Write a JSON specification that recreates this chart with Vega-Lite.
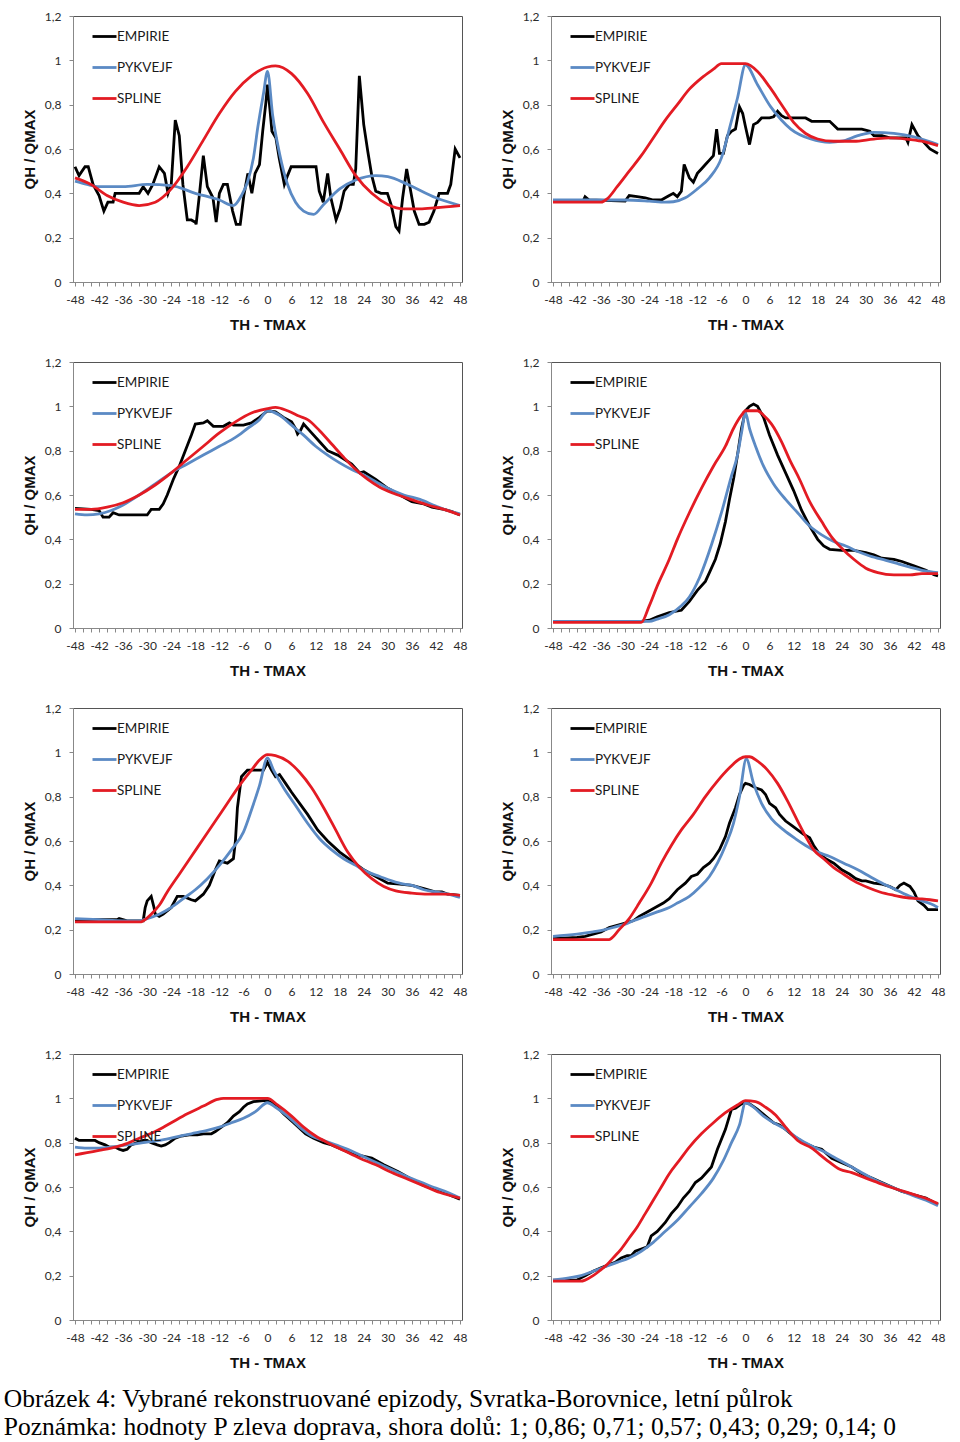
{
"$schema": "https://vega.github.io/schema/vega-lite/v6.json",
"background": "white",
"padding": {"left": 3, "top": 9, "right": 5, "bottom": 3},
"title": {"text": ["Obrázek 4: Vybrané rekonstruované epizody, Svratka-Borovnice, letní půlrok", "Poznámka: hodnoty  P zleva doprava, shora dolů: 1; 0,86; 0,71; 0,57; 0,43; 0,29; 0,14; 0"], "orient": "bottom", "anchor": "start", "frame": "bounds", "font": "Liberation Serif", "fontSize": 25.5, "fontWeight": "normal", "color": "#000000", "lineHeight": 28, "offset": 16, "dx": -18},
"columns": 2,
"spacing": {"row": 80, "column": 89},
"bounds": "flush",
"resolve": {"legend": {"color": "independent"}},
"config": {
  "view": {"stroke": "#555555", "strokeWidth": 1},
  "axis": {"grid": false, "labelFont": "Lato", "labelFontSize": 12, "labelColor": "#2b2b2b", "domainColor": "#888888", "tickColor": "#888888", "tickSize": 4, "titleFont": "Liberation Sans", "titleFontSize": 15, "titleFontWeight": "bold", "titleColor": "#111111"},
  "axisX": {"labelOverlap": false, "labelFlush": false, "labelPadding": 8, "titlePadding": 12},
  "axisY": {"labelPadding": 8, "titlePadding": 7},
  "legend": {"symbolType": "stroke", "symbolSize": 576, "symbolStrokeWidth": 3, "labelFont": "Lato", "labelFontSize": 13.5, "labelColor": "#1a1a1a", "labelOffset": -1, "rowPadding": 11},
  "line": {"strokeWidth": 2.8}
},
"concat": [
{"data": {"name": "p1"}, "width": 389, "height": 266, "encoding": {"x": {"field": "t", "type": "quantitative", "scale": {"domain": [-48.5, 48.5], "nice": false, "zero": false}, "axis": {"title": "TH - TMAX", "values": [-48,-46,-44,-42,-40,-38,-36,-34,-32,-30,-28,-26,-24,-22,-20,-18,-16,-14,-12,-10,-8,-6,-4,-2,0,2,4,6,8,10,12,14,16,18,20,22,24,26,28,30,32,34,36,38,40,42,44,46,48], "labelExpr": "datum.value % 6 == 0 ? replace(datum.label, '\u2212', '-') : ''"}}, "y": {"field": "q", "type": "quantitative", "scale": {"domain": [0, 1.2], "nice": false}, "axis": {"title": "QH / QMAX", "values": [0,0.2,0.4,0.6,0.8,1,1.2], "format": "~g", "labelExpr": "replace(datum.label, '.', ',')"}}, "color": {"field": "s", "type": "nominal", "scale": {"domain": ["EMPIRIE","PYKVEJF","SPLINE"], "range": ["#000000","#5B8AC4","#E31B23"]}, "legend": {"orient": "none", "legendX": 18, "legendY": 7, "title": null}}}, "layer": [{"transform": [{"filter": "datum.s == 'EMPIRIE'"}], "mark": {"type": "line"}}, {"transform": [{"filter": "datum.s != 'EMPIRIE'"}], "mark": {"type": "line", "interpolate": "monotone"}}]},
{"data": {"name": "p2"}, "width": 389, "height": 266, "encoding": {"x": {"field": "t", "type": "quantitative", "scale": {"domain": [-48.5, 48.5], "nice": false, "zero": false}, "axis": {"title": "TH - TMAX", "values": [-48,-46,-44,-42,-40,-38,-36,-34,-32,-30,-28,-26,-24,-22,-20,-18,-16,-14,-12,-10,-8,-6,-4,-2,0,2,4,6,8,10,12,14,16,18,20,22,24,26,28,30,32,34,36,38,40,42,44,46,48], "labelExpr": "datum.value % 6 == 0 ? replace(datum.label, '\u2212', '-') : ''"}}, "y": {"field": "q", "type": "quantitative", "scale": {"domain": [0, 1.2], "nice": false}, "axis": {"title": "QH / QMAX", "values": [0,0.2,0.4,0.6,0.8,1,1.2], "format": "~g", "labelExpr": "replace(datum.label, '.', ',')"}}, "color": {"field": "s", "type": "nominal", "scale": {"domain": ["EMPIRIE","PYKVEJF","SPLINE"], "range": ["#000000","#5B8AC4","#E31B23"]}, "legend": {"orient": "none", "legendX": 18, "legendY": 7, "title": null}}}, "layer": [{"transform": [{"filter": "datum.s == 'EMPIRIE'"}], "mark": {"type": "line"}}, {"transform": [{"filter": "datum.s != 'EMPIRIE'"}], "mark": {"type": "line", "interpolate": "monotone"}}]},
{"data": {"name": "p3"}, "width": 389, "height": 266, "encoding": {"x": {"field": "t", "type": "quantitative", "scale": {"domain": [-48.5, 48.5], "nice": false, "zero": false}, "axis": {"title": "TH - TMAX", "values": [-48,-46,-44,-42,-40,-38,-36,-34,-32,-30,-28,-26,-24,-22,-20,-18,-16,-14,-12,-10,-8,-6,-4,-2,0,2,4,6,8,10,12,14,16,18,20,22,24,26,28,30,32,34,36,38,40,42,44,46,48], "labelExpr": "datum.value % 6 == 0 ? replace(datum.label, '\u2212', '-') : ''"}}, "y": {"field": "q", "type": "quantitative", "scale": {"domain": [0, 1.2], "nice": false}, "axis": {"title": "QH / QMAX", "values": [0,0.2,0.4,0.6,0.8,1,1.2], "format": "~g", "labelExpr": "replace(datum.label, '.', ',')"}}, "color": {"field": "s", "type": "nominal", "scale": {"domain": ["EMPIRIE","PYKVEJF","SPLINE"], "range": ["#000000","#5B8AC4","#E31B23"]}, "legend": {"orient": "none", "legendX": 18, "legendY": 7, "title": null}}}, "layer": [{"transform": [{"filter": "datum.s == 'EMPIRIE'"}], "mark": {"type": "line"}}, {"transform": [{"filter": "datum.s != 'EMPIRIE'"}], "mark": {"type": "line", "interpolate": "monotone"}}]},
{"data": {"name": "p4"}, "width": 389, "height": 266, "encoding": {"x": {"field": "t", "type": "quantitative", "scale": {"domain": [-48.5, 48.5], "nice": false, "zero": false}, "axis": {"title": "TH - TMAX", "values": [-48,-46,-44,-42,-40,-38,-36,-34,-32,-30,-28,-26,-24,-22,-20,-18,-16,-14,-12,-10,-8,-6,-4,-2,0,2,4,6,8,10,12,14,16,18,20,22,24,26,28,30,32,34,36,38,40,42,44,46,48], "labelExpr": "datum.value % 6 == 0 ? replace(datum.label, '\u2212', '-') : ''"}}, "y": {"field": "q", "type": "quantitative", "scale": {"domain": [0, 1.2], "nice": false}, "axis": {"title": "QH / QMAX", "values": [0,0.2,0.4,0.6,0.8,1,1.2], "format": "~g", "labelExpr": "replace(datum.label, '.', ',')"}}, "color": {"field": "s", "type": "nominal", "scale": {"domain": ["EMPIRIE","PYKVEJF","SPLINE"], "range": ["#000000","#5B8AC4","#E31B23"]}, "legend": {"orient": "none", "legendX": 18, "legendY": 7, "title": null}}}, "layer": [{"transform": [{"filter": "datum.s == 'EMPIRIE'"}], "mark": {"type": "line"}}, {"transform": [{"filter": "datum.s != 'EMPIRIE'"}], "mark": {"type": "line", "interpolate": "monotone"}}]},
{"data": {"name": "p5"}, "width": 389, "height": 266, "encoding": {"x": {"field": "t", "type": "quantitative", "scale": {"domain": [-48.5, 48.5], "nice": false, "zero": false}, "axis": {"title": "TH - TMAX", "values": [-48,-46,-44,-42,-40,-38,-36,-34,-32,-30,-28,-26,-24,-22,-20,-18,-16,-14,-12,-10,-8,-6,-4,-2,0,2,4,6,8,10,12,14,16,18,20,22,24,26,28,30,32,34,36,38,40,42,44,46,48], "labelExpr": "datum.value % 6 == 0 ? replace(datum.label, '\u2212', '-') : ''"}}, "y": {"field": "q", "type": "quantitative", "scale": {"domain": [0, 1.2], "nice": false}, "axis": {"title": "QH / QMAX", "values": [0,0.2,0.4,0.6,0.8,1,1.2], "format": "~g", "labelExpr": "replace(datum.label, '.', ',')"}}, "color": {"field": "s", "type": "nominal", "scale": {"domain": ["EMPIRIE","PYKVEJF","SPLINE"], "range": ["#000000","#5B8AC4","#E31B23"]}, "legend": {"orient": "none", "legendX": 18, "legendY": 7, "title": null}}}, "layer": [{"transform": [{"filter": "datum.s == 'EMPIRIE'"}], "mark": {"type": "line"}}, {"transform": [{"filter": "datum.s != 'EMPIRIE'"}], "mark": {"type": "line", "interpolate": "monotone"}}]},
{"data": {"name": "p6"}, "width": 389, "height": 266, "encoding": {"x": {"field": "t", "type": "quantitative", "scale": {"domain": [-48.5, 48.5], "nice": false, "zero": false}, "axis": {"title": "TH - TMAX", "values": [-48,-46,-44,-42,-40,-38,-36,-34,-32,-30,-28,-26,-24,-22,-20,-18,-16,-14,-12,-10,-8,-6,-4,-2,0,2,4,6,8,10,12,14,16,18,20,22,24,26,28,30,32,34,36,38,40,42,44,46,48], "labelExpr": "datum.value % 6 == 0 ? replace(datum.label, '\u2212', '-') : ''"}}, "y": {"field": "q", "type": "quantitative", "scale": {"domain": [0, 1.2], "nice": false}, "axis": {"title": "QH / QMAX", "values": [0,0.2,0.4,0.6,0.8,1,1.2], "format": "~g", "labelExpr": "replace(datum.label, '.', ',')"}}, "color": {"field": "s", "type": "nominal", "scale": {"domain": ["EMPIRIE","PYKVEJF","SPLINE"], "range": ["#000000","#5B8AC4","#E31B23"]}, "legend": {"orient": "none", "legendX": 18, "legendY": 7, "title": null}}}, "layer": [{"transform": [{"filter": "datum.s == 'EMPIRIE'"}], "mark": {"type": "line"}}, {"transform": [{"filter": "datum.s != 'EMPIRIE'"}], "mark": {"type": "line", "interpolate": "monotone"}}]},
{"data": {"name": "p7"}, "width": 389, "height": 266, "encoding": {"x": {"field": "t", "type": "quantitative", "scale": {"domain": [-48.5, 48.5], "nice": false, "zero": false}, "axis": {"title": "TH - TMAX", "values": [-48,-46,-44,-42,-40,-38,-36,-34,-32,-30,-28,-26,-24,-22,-20,-18,-16,-14,-12,-10,-8,-6,-4,-2,0,2,4,6,8,10,12,14,16,18,20,22,24,26,28,30,32,34,36,38,40,42,44,46,48], "labelExpr": "datum.value % 6 == 0 ? replace(datum.label, '\u2212', '-') : ''"}}, "y": {"field": "q", "type": "quantitative", "scale": {"domain": [0, 1.2], "nice": false}, "axis": {"title": "QH / QMAX", "values": [0,0.2,0.4,0.6,0.8,1,1.2], "format": "~g", "labelExpr": "replace(datum.label, '.', ',')"}}, "color": {"field": "s", "type": "nominal", "scale": {"domain": ["EMPIRIE","PYKVEJF","SPLINE"], "range": ["#000000","#5B8AC4","#E31B23"]}, "legend": {"orient": "none", "legendX": 18, "legendY": 7, "title": null}}}, "layer": [{"transform": [{"filter": "datum.s == 'EMPIRIE'"}], "mark": {"type": "line"}}, {"transform": [{"filter": "datum.s != 'EMPIRIE'"}], "mark": {"type": "line", "interpolate": "monotone"}}]},
{"data": {"name": "p8"}, "width": 389, "height": 266, "encoding": {"x": {"field": "t", "type": "quantitative", "scale": {"domain": [-48.5, 48.5], "nice": false, "zero": false}, "axis": {"title": "TH - TMAX", "values": [-48,-46,-44,-42,-40,-38,-36,-34,-32,-30,-28,-26,-24,-22,-20,-18,-16,-14,-12,-10,-8,-6,-4,-2,0,2,4,6,8,10,12,14,16,18,20,22,24,26,28,30,32,34,36,38,40,42,44,46,48], "labelExpr": "datum.value % 6 == 0 ? replace(datum.label, '\u2212', '-') : ''"}}, "y": {"field": "q", "type": "quantitative", "scale": {"domain": [0, 1.2], "nice": false}, "axis": {"title": "QH / QMAX", "values": [0,0.2,0.4,0.6,0.8,1,1.2], "format": "~g", "labelExpr": "replace(datum.label, '.', ',')"}}, "color": {"field": "s", "type": "nominal", "scale": {"domain": ["EMPIRIE","PYKVEJF","SPLINE"], "range": ["#000000","#5B8AC4","#E31B23"]}, "legend": {"orient": "none", "legendX": 18, "legendY": 7, "title": null}}}, "layer": [{"transform": [{"filter": "datum.s == 'EMPIRIE'"}], "mark": {"type": "line"}}, {"transform": [{"filter": "datum.s != 'EMPIRIE'"}], "mark": {"type": "line", "interpolate": "monotone"}}]}
],
"datasets": {
"p1": [
{"s":"EMPIRIE","t":-48,"q":0.52},{"s":"EMPIRIE","t":-47,"q":0.48},{"s":"EMPIRIE","t":-45.5,"q":0.52},{"s":"EMPIRIE","t":-44.7,"q":0.52},{"s":"EMPIRIE","t":-43.5,"q":0.44},{"s":"EMPIRIE","t":-42,"q":0.39},{"s":"EMPIRIE","t":-40.8,"q":0.32},{"s":"EMPIRIE","t":-39.8,"q":0.36},{"s":"EMPIRIE","t":-38.5,"q":0.36},{"s":"EMPIRIE","t":-38,"q":0.40},{"s":"EMPIRIE","t":-32,"q":0.40},{"s":"EMPIRIE","t":-31,"q":0.43},{"s":"EMPIRIE","t":-29.8,"q":0.40},{"s":"EMPIRIE","t":-28.6,"q":0.44},{"s":"EMPIRIE","t":-27,"q":0.52},{"s":"EMPIRIE","t":-25.7,"q":0.49},{"s":"EMPIRIE","t":-24.8,"q":0.40},{"s":"EMPIRIE","t":-24,"q":0.44},{"s":"EMPIRIE","t":-23,"q":0.73},{"s":"EMPIRIE","t":-22,"q":0.66},{"s":"EMPIRIE","t":-21.1,"q":0.44},{"s":"EMPIRIE","t":-20,"q":0.28},{"s":"EMPIRIE","t":-19,"q":0.28},{"s":"EMPIRIE","t":-18,"q":0.27},{"s":"EMPIRIE","t":-17.8,"q":0.26},{"s":"EMPIRIE","t":-17,"q":0.39},{"s":"EMPIRIE","t":-16,"q":0.57},{"s":"EMPIRIE","t":-15,"q":0.43},{"s":"EMPIRIE","t":-13.6,"q":0.38},{"s":"EMPIRIE","t":-12.8,"q":0.27},{"s":"EMPIRIE","t":-12,"q":0.40},{"s":"EMPIRIE","t":-11,"q":0.44},{"s":"EMPIRIE","t":-10,"q":0.44},{"s":"EMPIRIE","t":-8.7,"q":0.32},{"s":"EMPIRIE","t":-7.8,"q":0.26},{"s":"EMPIRIE","t":-6.8,"q":0.26},{"s":"EMPIRIE","t":-5.9,"q":0.39},{"s":"EMPIRIE","t":-4.9,"q":0.49},{"s":"EMPIRIE","t":-3.9,"q":0.40},{"s":"EMPIRIE","t":-3.1,"q":0.49},{"s":"EMPIRIE","t":-2,"q":0.53},{"s":"EMPIRIE","t":-1.2,"q":0.68},{"s":"EMPIRIE","t":-0.4,"q":0.81},{"s":"EMPIRIE","t":0,"q":0.89},{"s":"EMPIRIE","t":0.6,"q":0.78},{"s":"EMPIRIE","t":1.1,"q":0.68},{"s":"EMPIRIE","t":2.1,"q":0.65},{"s":"EMPIRIE","t":2.9,"q":0.56},{"s":"EMPIRIE","t":4.2,"q":0.44},{"s":"EMPIRIE","t":5,"q":0.48},{"s":"EMPIRIE","t":5.9,"q":0.52},{"s":"EMPIRIE","t":12.1,"q":0.52},{"s":"EMPIRIE","t":12.9,"q":0.41},{"s":"EMPIRIE","t":13.9,"q":0.36},{"s":"EMPIRIE","t":15,"q":0.49},{"s":"EMPIRIE","t":15.8,"q":0.38},{"s":"EMPIRIE","t":17.1,"q":0.28},{"s":"EMPIRIE","t":18.1,"q":0.33},{"s":"EMPIRIE","t":19.1,"q":0.41},{"s":"EMPIRIE","t":20.4,"q":0.44},{"s":"EMPIRIE","t":21.4,"q":0.44},{"s":"EMPIRIE","t":22,"q":0.51},{"s":"EMPIRIE","t":22.9,"q":0.93},{"s":"EMPIRIE","t":24,"q":0.71},{"s":"EMPIRIE","t":25,"q":0.59},{"s":"EMPIRIE","t":26,"q":0.48},{"s":"EMPIRIE","t":27,"q":0.41},{"s":"EMPIRIE","t":28.3,"q":0.40},{"s":"EMPIRIE","t":29.9,"q":0.40},{"s":"EMPIRIE","t":30.8,"q":0.35},{"s":"EMPIRIE","t":32,"q":0.25},{"s":"EMPIRIE","t":32.8,"q":0.23},{"s":"EMPIRIE","t":33.7,"q":0.38},{"s":"EMPIRIE","t":34.7,"q":0.51},{"s":"EMPIRIE","t":35.7,"q":0.41},{"s":"EMPIRIE","t":36.6,"q":0.32},{"s":"EMPIRIE","t":37.8,"q":0.26},{"s":"EMPIRIE","t":39.1,"q":0.26},{"s":"EMPIRIE","t":40.3,"q":0.27},{"s":"EMPIRIE","t":41.5,"q":0.32},{"s":"EMPIRIE","t":42.8,"q":0.40},{"s":"EMPIRIE","t":44.9,"q":0.40},{"s":"EMPIRIE","t":45.7,"q":0.44},{"s":"EMPIRIE","t":46.8,"q":0.60},{"s":"EMPIRIE","t":48,"q":0.56},
{"s":"PYKVEJF","t":-48,"q":0.455},{"s":"PYKVEJF","t":-45,"q":0.44},{"s":"PYKVEJF","t":-42,"q":0.43},{"s":"PYKVEJF","t":-36,"q":0.43},{"s":"PYKVEJF","t":-30,"q":0.44},{"s":"PYKVEJF","t":-24,"q":0.435},{"s":"PYKVEJF","t":-18,"q":0.40},{"s":"PYKVEJF","t":-12,"q":0.37},{"s":"PYKVEJF","t":-8.5,"q":0.345},{"s":"PYKVEJF","t":-6.5,"q":0.39},{"s":"PYKVEJF","t":-5,"q":0.45},{"s":"PYKVEJF","t":-3.5,"q":0.56},{"s":"PYKVEJF","t":-2.4,"q":0.70},{"s":"PYKVEJF","t":-1,"q":0.85},{"s":"PYKVEJF","t":0,"q":0.95},{"s":"PYKVEJF","t":1.3,"q":0.75},{"s":"PYKVEJF","t":3,"q":0.58},{"s":"PYKVEJF","t":5,"q":0.44},{"s":"PYKVEJF","t":7,"q":0.36},{"s":"PYKVEJF","t":9,"q":0.32},{"s":"PYKVEJF","t":11.5,"q":0.305},{"s":"PYKVEJF","t":14,"q":0.35},{"s":"PYKVEJF","t":18,"q":0.42},{"s":"PYKVEJF","t":22,"q":0.46},{"s":"PYKVEJF","t":27,"q":0.48},{"s":"PYKVEJF","t":30,"q":0.475},{"s":"PYKVEJF","t":35,"q":0.44},{"s":"PYKVEJF","t":42,"q":0.38},{"s":"PYKVEJF","t":48,"q":0.345},
{"s":"SPLINE","t":-48,"q":0.47},{"s":"SPLINE","t":-44,"q":0.44},{"s":"SPLINE","t":-40,"q":0.39},{"s":"SPLINE","t":-36,"q":0.36},{"s":"SPLINE","t":-32,"q":0.345},{"s":"SPLINE","t":-28,"q":0.36},{"s":"SPLINE","t":-24,"q":0.42},{"s":"SPLINE","t":-20,"q":0.52},{"s":"SPLINE","t":-16,"q":0.64},{"s":"SPLINE","t":-12,"q":0.76},{"s":"SPLINE","t":-8,"q":0.86},{"s":"SPLINE","t":-4,"q":0.93},{"s":"SPLINE","t":0,"q":0.97},{"s":"SPLINE","t":2,"q":0.975},{"s":"SPLINE","t":6,"q":0.94},{"s":"SPLINE","t":10,"q":0.85},{"s":"SPLINE","t":14,"q":0.72},{"s":"SPLINE","t":18,"q":0.60},{"s":"SPLINE","t":22,"q":0.48},{"s":"SPLINE","t":26,"q":0.40},{"s":"SPLINE","t":30,"q":0.35},{"s":"SPLINE","t":34,"q":0.33},{"s":"SPLINE","t":38,"q":0.33},{"s":"SPLINE","t":42,"q":0.335},{"s":"SPLINE","t":48,"q":0.345}
],
"p2": [
{"s":"EMPIRIE","t":-48,"q":0.365},{"s":"EMPIRIE","t":-40.5,"q":0.365},{"s":"EMPIRIE","t":-40,"q":0.385},{"s":"EMPIRIE","t":-39,"q":0.37},{"s":"EMPIRIE","t":-30,"q":0.365},{"s":"EMPIRIE","t":-29,"q":0.39},{"s":"EMPIRIE","t":-27,"q":0.385},{"s":"EMPIRIE","t":-25,"q":0.38},{"s":"EMPIRIE","t":-23,"q":0.37},{"s":"EMPIRIE","t":-21,"q":0.37},{"s":"EMPIRIE","t":-20,"q":0.38},{"s":"EMPIRIE","t":-19,"q":0.39},{"s":"EMPIRIE","t":-18,"q":0.40},{"s":"EMPIRIE","t":-17,"q":0.385},{"s":"EMPIRIE","t":-16,"q":0.41},{"s":"EMPIRIE","t":-15.3,"q":0.53},{"s":"EMPIRIE","t":-14,"q":0.47},{"s":"EMPIRIE","t":-13,"q":0.45},{"s":"EMPIRIE","t":-12,"q":0.49},{"s":"EMPIRIE","t":-11,"q":0.51},{"s":"EMPIRIE","t":-10,"q":0.53},{"s":"EMPIRIE","t":-9,"q":0.55},{"s":"EMPIRIE","t":-8,"q":0.57},{"s":"EMPIRIE","t":-7.2,"q":0.69},{"s":"EMPIRIE","t":-6.5,"q":0.58},{"s":"EMPIRIE","t":-5.5,"q":0.58},{"s":"EMPIRIE","t":-4.5,"q":0.66},{"s":"EMPIRIE","t":-3.5,"q":0.68},{"s":"EMPIRIE","t":-2.5,"q":0.69},{"s":"EMPIRIE","t":-1.5,"q":0.79},{"s":"EMPIRIE","t":-0.7,"q":0.76},{"s":"EMPIRIE","t":0,"q":0.70},{"s":"EMPIRIE","t":1,"q":0.62},{"s":"EMPIRIE","t":2,"q":0.71},{"s":"EMPIRIE","t":3,"q":0.72},{"s":"EMPIRIE","t":4,"q":0.74},{"s":"EMPIRIE","t":6,"q":0.74},{"s":"EMPIRIE","t":7,"q":0.745},{"s":"EMPIRIE","t":8,"q":0.77},{"s":"EMPIRIE","t":9,"q":0.75},{"s":"EMPIRIE","t":10,"q":0.74},{"s":"EMPIRIE","t":15,"q":0.74},{"s":"EMPIRIE","t":16.5,"q":0.725},{"s":"EMPIRIE","t":21,"q":0.725},{"s":"EMPIRIE","t":23,"q":0.69},{"s":"EMPIRIE","t":29,"q":0.69},{"s":"EMPIRIE","t":31,"q":0.68},{"s":"EMPIRIE","t":32,"q":0.66},{"s":"EMPIRIE","t":34,"q":0.66},{"s":"EMPIRIE","t":36,"q":0.65},{"s":"EMPIRIE","t":40,"q":0.65},{"s":"EMPIRIE","t":40.5,"q":0.63},{"s":"EMPIRIE","t":41.5,"q":0.71},{"s":"EMPIRIE","t":43,"q":0.66},{"s":"EMPIRIE","t":45,"q":0.62},{"s":"EMPIRIE","t":46,"q":0.60},{"s":"EMPIRIE","t":48,"q":0.58},
{"s":"PYKVEJF","t":-48,"q":0.37},{"s":"PYKVEJF","t":-30,"q":0.37},{"s":"PYKVEJF","t":-24,"q":0.365},{"s":"PYKVEJF","t":-20,"q":0.36},{"s":"PYKVEJF","t":-18,"q":0.362},{"s":"PYKVEJF","t":-15,"q":0.38},{"s":"PYKVEJF","t":-12,"q":0.42},{"s":"PYKVEJF","t":-9,"q":0.47},{"s":"PYKVEJF","t":-6,"q":0.56},{"s":"PYKVEJF","t":-3.6,"q":0.72},{"s":"PYKVEJF","t":-2,"q":0.83},{"s":"PYKVEJF","t":0,"q":0.98},{"s":"PYKVEJF","t":3,"q":0.89},{"s":"PYKVEJF","t":6.3,"q":0.79},{"s":"PYKVEJF","t":9,"q":0.73},{"s":"PYKVEJF","t":11.3,"q":0.69},{"s":"PYKVEJF","t":16.3,"q":0.645},{"s":"PYKVEJF","t":21,"q":0.63},{"s":"PYKVEJF","t":24,"q":0.635},{"s":"PYKVEJF","t":28,"q":0.66},{"s":"PYKVEJF","t":32,"q":0.675},{"s":"PYKVEJF","t":37,"q":0.67},{"s":"PYKVEJF","t":42,"q":0.655},{"s":"PYKVEJF","t":48,"q":0.62},
{"s":"SPLINE","t":-48,"q":0.36},{"s":"SPLINE","t":-36,"q":0.36},{"s":"SPLINE","t":-34.5,"q":0.375},{"s":"SPLINE","t":-32,"q":0.43},{"s":"SPLINE","t":-29,"q":0.50},{"s":"SPLINE","t":-26,"q":0.57},{"s":"SPLINE","t":-23,"q":0.65},{"s":"SPLINE","t":-20,"q":0.73},{"s":"SPLINE","t":-17,"q":0.80},{"s":"SPLINE","t":-14,"q":0.87},{"s":"SPLINE","t":-11,"q":0.92},{"s":"SPLINE","t":-8,"q":0.96},{"s":"SPLINE","t":-6,"q":0.985},{"s":"SPLINE","t":0,"q":0.985},{"s":"SPLINE","t":3,"q":0.95},{"s":"SPLINE","t":6,"q":0.88},{"s":"SPLINE","t":9,"q":0.80},{"s":"SPLINE","t":12,"q":0.72},{"s":"SPLINE","t":15,"q":0.67},{"s":"SPLINE","t":18,"q":0.645},{"s":"SPLINE","t":22,"q":0.635},{"s":"SPLINE","t":27,"q":0.635},{"s":"SPLINE","t":32,"q":0.645},{"s":"SPLINE","t":36,"q":0.65},{"s":"SPLINE","t":40,"q":0.645},{"s":"SPLINE","t":44,"q":0.635},{"s":"SPLINE","t":48,"q":0.615}
],
"p3": [
{"s":"EMPIRIE","t":-48,"q":0.54},{"s":"EMPIRIE","t":-44,"q":0.535},{"s":"EMPIRIE","t":-42,"q":0.53},{"s":"EMPIRIE","t":-41,"q":0.50},{"s":"EMPIRIE","t":-39.5,"q":0.50},{"s":"EMPIRIE","t":-38.5,"q":0.52},{"s":"EMPIRIE","t":-37,"q":0.51},{"s":"EMPIRIE","t":-30,"q":0.51},{"s":"EMPIRIE","t":-29,"q":0.535},{"s":"EMPIRIE","t":-27,"q":0.535},{"s":"EMPIRIE","t":-26,"q":0.56},{"s":"EMPIRIE","t":-25,"q":0.60},{"s":"EMPIRIE","t":-23.5,"q":0.67},{"s":"EMPIRIE","t":-22,"q":0.73},{"s":"EMPIRIE","t":-20.5,"q":0.80},{"s":"EMPIRIE","t":-19,"q":0.87},{"s":"EMPIRIE","t":-18,"q":0.92},{"s":"EMPIRIE","t":-16,"q":0.925},{"s":"EMPIRIE","t":-15,"q":0.935},{"s":"EMPIRIE","t":-13.5,"q":0.91},{"s":"EMPIRIE","t":-11,"q":0.91},{"s":"EMPIRIE","t":-9.5,"q":0.925},{"s":"EMPIRIE","t":-8.5,"q":0.915},{"s":"EMPIRIE","t":-6,"q":0.915},{"s":"EMPIRIE","t":-4,"q":0.925},{"s":"EMPIRIE","t":-2,"q":0.95},{"s":"EMPIRIE","t":0,"q":0.98},{"s":"EMPIRIE","t":2,"q":0.975},{"s":"EMPIRIE","t":4,"q":0.95},{"s":"EMPIRIE","t":6,"q":0.93},{"s":"EMPIRIE","t":7,"q":0.90},{"s":"EMPIRIE","t":7.5,"q":0.875},{"s":"EMPIRIE","t":8.2,"q":0.89},{"s":"EMPIRIE","t":9,"q":0.92},{"s":"EMPIRIE","t":11,"q":0.88},{"s":"EMPIRIE","t":13,"q":0.84},{"s":"EMPIRIE","t":15,"q":0.80},{"s":"EMPIRIE","t":17.5,"q":0.78},{"s":"EMPIRIE","t":21,"q":0.74},{"s":"EMPIRIE","t":23,"q":0.70},{"s":"EMPIRIE","t":24,"q":0.705},{"s":"EMPIRIE","t":27,"q":0.67},{"s":"EMPIRIE","t":30,"q":0.63},{"s":"EMPIRIE","t":33,"q":0.60},{"s":"EMPIRIE","t":36,"q":0.57},{"s":"EMPIRIE","t":39,"q":0.56},{"s":"EMPIRIE","t":41,"q":0.545},{"s":"EMPIRIE","t":44,"q":0.535},{"s":"EMPIRIE","t":46,"q":0.525},{"s":"EMPIRIE","t":48,"q":0.51},
{"s":"PYKVEJF","t":-48,"q":0.515},{"s":"PYKVEJF","t":-45,"q":0.51},{"s":"PYKVEJF","t":-42,"q":0.515},{"s":"PYKVEJF","t":-39,"q":0.53},{"s":"PYKVEJF","t":-36,"q":0.555},{"s":"PYKVEJF","t":-32,"q":0.60},{"s":"PYKVEJF","t":-28,"q":0.65},{"s":"PYKVEJF","t":-24,"q":0.70},{"s":"PYKVEJF","t":-20,"q":0.74},{"s":"PYKVEJF","t":-16,"q":0.78},{"s":"PYKVEJF","t":-12,"q":0.82},{"s":"PYKVEJF","t":-8,"q":0.86},{"s":"PYKVEJF","t":-5,"q":0.90},{"s":"PYKVEJF","t":-2,"q":0.94},{"s":"PYKVEJF","t":0,"q":0.98},{"s":"PYKVEJF","t":3,"q":0.96},{"s":"PYKVEJF","t":6,"q":0.915},{"s":"PYKVEJF","t":9,"q":0.87},{"s":"PYKVEJF","t":12,"q":0.82},{"s":"PYKVEJF","t":15,"q":0.78},{"s":"PYKVEJF","t":18,"q":0.745},{"s":"PYKVEJF","t":21,"q":0.715},{"s":"PYKVEJF","t":24,"q":0.69},{"s":"PYKVEJF","t":27,"q":0.66},{"s":"PYKVEJF","t":30,"q":0.63},{"s":"PYKVEJF","t":34,"q":0.60},{"s":"PYKVEJF","t":38,"q":0.58},{"s":"PYKVEJF","t":42,"q":0.55},{"s":"PYKVEJF","t":45,"q":0.53},{"s":"PYKVEJF","t":48,"q":0.515},
{"s":"SPLINE","t":-48,"q":0.535},{"s":"SPLINE","t":-44,"q":0.535},{"s":"SPLINE","t":-40,"q":0.545},{"s":"SPLINE","t":-36,"q":0.565},{"s":"SPLINE","t":-32,"q":0.60},{"s":"SPLINE","t":-28,"q":0.645},{"s":"SPLINE","t":-24,"q":0.70},{"s":"SPLINE","t":-20,"q":0.76},{"s":"SPLINE","t":-16,"q":0.82},{"s":"SPLINE","t":-12,"q":0.88},{"s":"SPLINE","t":-8,"q":0.93},{"s":"SPLINE","t":-4,"q":0.97},{"s":"SPLINE","t":0,"q":0.99},{"s":"SPLINE","t":2,"q":0.995},{"s":"SPLINE","t":5,"q":0.98},{"s":"SPLINE","t":8,"q":0.955},{"s":"SPLINE","t":10,"q":0.94},{"s":"SPLINE","t":13,"q":0.89},{"s":"SPLINE","t":16,"q":0.83},{"s":"SPLINE","t":19,"q":0.77},{"s":"SPLINE","t":22,"q":0.715},{"s":"SPLINE","t":25,"q":0.67},{"s":"SPLINE","t":28,"q":0.635},{"s":"SPLINE","t":31,"q":0.61},{"s":"SPLINE","t":35,"q":0.585},{"s":"SPLINE","t":40,"q":0.555},{"s":"SPLINE","t":44,"q":0.535},{"s":"SPLINE","t":48,"q":0.51}
],
"p4": [
{"s":"EMPIRIE","t":-48,"q":0.03},{"s":"EMPIRIE","t":-26,"q":0.03},{"s":"EMPIRIE","t":-24,"q":0.035},{"s":"EMPIRIE","t":-22,"q":0.05},{"s":"EMPIRIE","t":-19,"q":0.07},{"s":"EMPIRIE","t":-16,"q":0.08},{"s":"EMPIRIE","t":-14,"q":0.12},{"s":"EMPIRIE","t":-12,"q":0.17},{"s":"EMPIRIE","t":-10,"q":0.21},{"s":"EMPIRIE","t":-9,"q":0.25},{"s":"EMPIRIE","t":-7.5,"q":0.31},{"s":"EMPIRIE","t":-6.3,"q":0.38},{"s":"EMPIRIE","t":-5,"q":0.48},{"s":"EMPIRIE","t":-4,"q":0.58},{"s":"EMPIRIE","t":-2.9,"q":0.68},{"s":"EMPIRIE","t":-2,"q":0.78},{"s":"EMPIRIE","t":-1,"q":0.90},{"s":"EMPIRIE","t":0,"q":0.98},{"s":"EMPIRIE","t":1,"q":1.0},{"s":"EMPIRIE","t":2,"q":1.01},{"s":"EMPIRIE","t":3,"q":1.0},{"s":"EMPIRIE","t":4.5,"q":0.95},{"s":"EMPIRIE","t":6,"q":0.87},{"s":"EMPIRIE","t":8,"q":0.78},{"s":"EMPIRIE","t":10,"q":0.70},{"s":"EMPIRIE","t":12,"q":0.62},{"s":"EMPIRIE","t":14,"q":0.53},{"s":"EMPIRIE","t":16,"q":0.46},{"s":"EMPIRIE","t":18,"q":0.40},{"s":"EMPIRIE","t":19.5,"q":0.37},{"s":"EMPIRIE","t":21,"q":0.355},{"s":"EMPIRIE","t":24,"q":0.35},{"s":"EMPIRIE","t":27,"q":0.35},{"s":"EMPIRIE","t":30,"q":0.34},{"s":"EMPIRIE","t":32,"q":0.33},{"s":"EMPIRIE","t":34,"q":0.315},{"s":"EMPIRIE","t":37,"q":0.31},{"s":"EMPIRIE","t":39,"q":0.30},{"s":"EMPIRIE","t":42,"q":0.28},{"s":"EMPIRIE","t":45,"q":0.26},{"s":"EMPIRIE","t":47,"q":0.24},{"s":"EMPIRIE","t":48,"q":0.235},
{"s":"PYKVEJF","t":-48,"q":0.03},{"s":"PYKVEJF","t":-24,"q":0.03},{"s":"PYKVEJF","t":-22,"q":0.04},{"s":"PYKVEJF","t":-19,"q":0.06},{"s":"PYKVEJF","t":-16,"q":0.10},{"s":"PYKVEJF","t":-14,"q":0.14},{"s":"PYKVEJF","t":-11.4,"q":0.23},{"s":"PYKVEJF","t":-8.4,"q":0.38},{"s":"PYKVEJF","t":-6,"q":0.52},{"s":"PYKVEJF","t":-3.6,"q":0.68},{"s":"PYKVEJF","t":-2,"q":0.78},{"s":"PYKVEJF","t":-1,"q":0.88},{"s":"PYKVEJF","t":0,"q":0.97},{"s":"PYKVEJF","t":1,"q":0.90},{"s":"PYKVEJF","t":2.5,"q":0.82},{"s":"PYKVEJF","t":4.5,"q":0.73},{"s":"PYKVEJF","t":7,"q":0.65},{"s":"PYKVEJF","t":10,"q":0.58},{"s":"PYKVEJF","t":13,"q":0.52},{"s":"PYKVEJF","t":16,"q":0.46},{"s":"PYKVEJF","t":19,"q":0.42},{"s":"PYKVEJF","t":22,"q":0.39},{"s":"PYKVEJF","t":25,"q":0.37},{"s":"PYKVEJF","t":28,"q":0.345},{"s":"PYKVEJF","t":31,"q":0.325},{"s":"PYKVEJF","t":35,"q":0.305},{"s":"PYKVEJF","t":38,"q":0.29},{"s":"PYKVEJF","t":41,"q":0.275},{"s":"PYKVEJF","t":44,"q":0.26},{"s":"PYKVEJF","t":48,"q":0.25},
{"s":"SPLINE","t":-48,"q":0.025},{"s":"SPLINE","t":-26,"q":0.025},{"s":"SPLINE","t":-24,"q":0.10},{"s":"SPLINE","t":-22,"q":0.19},{"s":"SPLINE","t":-19,"q":0.31},{"s":"SPLINE","t":-17,"q":0.40},{"s":"SPLINE","t":-14,"q":0.52},{"s":"SPLINE","t":-11,"q":0.63},{"s":"SPLINE","t":-8,"q":0.73},{"s":"SPLINE","t":-5,"q":0.82},{"s":"SPLINE","t":-3,"q":0.90},{"s":"SPLINE","t":-1,"q":0.96},{"s":"SPLINE","t":0,"q":0.98},{"s":"SPLINE","t":3,"q":0.98},{"s":"SPLINE","t":4.5,"q":0.96},{"s":"SPLINE","t":6.5,"q":0.92},{"s":"SPLINE","t":9,"q":0.84},{"s":"SPLINE","t":11,"q":0.76},{"s":"SPLINE","t":13.5,"q":0.67},{"s":"SPLINE","t":16,"q":0.57},{"s":"SPLINE","t":19,"q":0.48},{"s":"SPLINE","t":21.5,"q":0.41},{"s":"SPLINE","t":24,"q":0.36},{"s":"SPLINE","t":27,"q":0.31},{"s":"SPLINE","t":30,"q":0.27},{"s":"SPLINE","t":33,"q":0.25},{"s":"SPLINE","t":37,"q":0.24},{"s":"SPLINE","t":41,"q":0.24},{"s":"SPLINE","t":44,"q":0.245},{"s":"SPLINE","t":48,"q":0.245}
],
"p5": [
{"s":"EMPIRIE","t":-48,"q":0.245},{"s":"EMPIRIE","t":-37.5,"q":0.245},{"s":"EMPIRIE","t":-37,"q":0.25},{"s":"EMPIRIE","t":-35,"q":0.24},{"s":"EMPIRIE","t":-31,"q":0.24},{"s":"EMPIRIE","t":-30.5,"q":0.30},{"s":"EMPIRIE","t":-30,"q":0.33},{"s":"EMPIRIE","t":-29,"q":0.35},{"s":"EMPIRIE","t":-28.3,"q":0.30},{"s":"EMPIRIE","t":-28,"q":0.27},{"s":"EMPIRIE","t":-27,"q":0.26},{"s":"EMPIRIE","t":-26,"q":0.27},{"s":"EMPIRIE","t":-24,"q":0.30},{"s":"EMPIRIE","t":-22.5,"q":0.35},{"s":"EMPIRIE","t":-21,"q":0.35},{"s":"EMPIRIE","t":-19,"q":0.335},{"s":"EMPIRIE","t":-18,"q":0.33},{"s":"EMPIRIE","t":-16,"q":0.36},{"s":"EMPIRIE","t":-14.5,"q":0.40},{"s":"EMPIRIE","t":-13,"q":0.47},{"s":"EMPIRIE","t":-12,"q":0.51},{"s":"EMPIRIE","t":-10,"q":0.50},{"s":"EMPIRIE","t":-8.5,"q":0.52},{"s":"EMPIRIE","t":-8,"q":0.60},{"s":"EMPIRIE","t":-7.5,"q":0.75},{"s":"EMPIRIE","t":-6.5,"q":0.89},{"s":"EMPIRIE","t":-5,"q":0.92},{"s":"EMPIRIE","t":-1,"q":0.92},{"s":"EMPIRIE","t":0,"q":0.955},{"s":"EMPIRIE","t":1,"q":0.92},{"s":"EMPIRIE","t":2,"q":0.89},{"s":"EMPIRIE","t":3,"q":0.90},{"s":"EMPIRIE","t":4.5,"q":0.86},{"s":"EMPIRIE","t":6,"q":0.82},{"s":"EMPIRIE","t":8,"q":0.77},{"s":"EMPIRIE","t":10,"q":0.72},{"s":"EMPIRIE","t":12.5,"q":0.65},{"s":"EMPIRIE","t":15,"q":0.60},{"s":"EMPIRIE","t":18,"q":0.55},{"s":"EMPIRIE","t":21,"q":0.51},{"s":"EMPIRIE","t":24,"q":0.47},{"s":"EMPIRIE","t":27,"q":0.44},{"s":"EMPIRIE","t":30,"q":0.41},{"s":"EMPIRIE","t":33,"q":0.405},{"s":"EMPIRIE","t":36,"q":0.40},{"s":"EMPIRIE","t":39,"q":0.385},{"s":"EMPIRIE","t":42,"q":0.37},{"s":"EMPIRIE","t":43.5,"q":0.37},{"s":"EMPIRIE","t":45,"q":0.36},{"s":"EMPIRIE","t":48,"q":0.355},
{"s":"PYKVEJF","t":-48,"q":0.25},{"s":"PYKVEJF","t":-42,"q":0.245},{"s":"PYKVEJF","t":-36,"q":0.24},{"s":"PYKVEJF","t":-32,"q":0.24},{"s":"PYKVEJF","t":-30,"q":0.25},{"s":"PYKVEJF","t":-27,"q":0.27},{"s":"PYKVEJF","t":-24,"q":0.30},{"s":"PYKVEJF","t":-21,"q":0.34},{"s":"PYKVEJF","t":-18,"q":0.38},{"s":"PYKVEJF","t":-15,"q":0.43},{"s":"PYKVEJF","t":-12,"q":0.49},{"s":"PYKVEJF","t":-9,"q":0.56},{"s":"PYKVEJF","t":-6,"q":0.64},{"s":"PYKVEJF","t":-4,"q":0.74},{"s":"PYKVEJF","t":-2,"q":0.85},{"s":"PYKVEJF","t":0,"q":0.975},{"s":"PYKVEJF","t":1.5,"q":0.92},{"s":"PYKVEJF","t":4,"q":0.84},{"s":"PYKVEJF","t":7,"q":0.76},{"s":"PYKVEJF","t":10,"q":0.68},{"s":"PYKVEJF","t":13,"q":0.61},{"s":"PYKVEJF","t":16,"q":0.56},{"s":"PYKVEJF","t":19,"q":0.52},{"s":"PYKVEJF","t":22,"q":0.49},{"s":"PYKVEJF","t":25,"q":0.46},{"s":"PYKVEJF","t":28,"q":0.44},{"s":"PYKVEJF","t":31,"q":0.42},{"s":"PYKVEJF","t":34,"q":0.405},{"s":"PYKVEJF","t":36,"q":0.40},{"s":"PYKVEJF","t":39,"q":0.38},{"s":"PYKVEJF","t":42,"q":0.37},{"s":"PYKVEJF","t":45,"q":0.36},{"s":"PYKVEJF","t":48,"q":0.345},
{"s":"SPLINE","t":-48,"q":0.235},{"s":"SPLINE","t":-31.5,"q":0.235},{"s":"SPLINE","t":-31,"q":0.24},{"s":"SPLINE","t":-29,"q":0.27},{"s":"SPLINE","t":-27,"q":0.31},{"s":"SPLINE","t":-25,"q":0.37},{"s":"SPLINE","t":-22,"q":0.45},{"s":"SPLINE","t":-19,"q":0.53},{"s":"SPLINE","t":-16,"q":0.61},{"s":"SPLINE","t":-13,"q":0.69},{"s":"SPLINE","t":-10,"q":0.77},{"s":"SPLINE","t":-7,"q":0.85},{"s":"SPLINE","t":-4,"q":0.92},{"s":"SPLINE","t":-2,"q":0.965},{"s":"SPLINE","t":0,"q":0.99},{"s":"SPLINE","t":2,"q":0.985},{"s":"SPLINE","t":5,"q":0.96},{"s":"SPLINE","t":8,"q":0.91},{"s":"SPLINE","t":11,"q":0.84},{"s":"SPLINE","t":14,"q":0.75},{"s":"SPLINE","t":17,"q":0.65},{"s":"SPLINE","t":20,"q":0.55},{"s":"SPLINE","t":23,"q":0.48},{"s":"SPLINE","t":26,"q":0.43},{"s":"SPLINE","t":29,"q":0.395},{"s":"SPLINE","t":32,"q":0.375},{"s":"SPLINE","t":36,"q":0.365},{"s":"SPLINE","t":40,"q":0.36},{"s":"SPLINE","t":44,"q":0.36},{"s":"SPLINE","t":48,"q":0.355}
],
"p6": [
{"s":"EMPIRIE","t":-48,"q":0.16},{"s":"EMPIRIE","t":-42,"q":0.165},{"s":"EMPIRIE","t":-40,"q":0.17},{"s":"EMPIRIE","t":-38,"q":0.18},{"s":"EMPIRIE","t":-36,"q":0.19},{"s":"EMPIRIE","t":-34,"q":0.21},{"s":"EMPIRIE","t":-32,"q":0.22},{"s":"EMPIRIE","t":-30,"q":0.23},{"s":"EMPIRIE","t":-28,"q":0.24},{"s":"EMPIRIE","t":-26.5,"q":0.26},{"s":"EMPIRIE","t":-24.5,"q":0.28},{"s":"EMPIRIE","t":-22.5,"q":0.30},{"s":"EMPIRIE","t":-20.5,"q":0.32},{"s":"EMPIRIE","t":-19,"q":0.34},{"s":"EMPIRIE","t":-17,"q":0.38},{"s":"EMPIRIE","t":-15,"q":0.41},{"s":"EMPIRIE","t":-13.5,"q":0.44},{"s":"EMPIRIE","t":-12,"q":0.45},{"s":"EMPIRIE","t":-10.5,"q":0.48},{"s":"EMPIRIE","t":-9,"q":0.50},{"s":"EMPIRIE","t":-8,"q":0.52},{"s":"EMPIRIE","t":-6.5,"q":0.56},{"s":"EMPIRIE","t":-5,"q":0.62},{"s":"EMPIRIE","t":-4,"q":0.68},{"s":"EMPIRIE","t":-2.5,"q":0.75},{"s":"EMPIRIE","t":-1.5,"q":0.81},{"s":"EMPIRIE","t":-0.5,"q":0.85},{"s":"EMPIRIE","t":0,"q":0.86},{"s":"EMPIRIE","t":1,"q":0.855},{"s":"EMPIRIE","t":2.5,"q":0.84},{"s":"EMPIRIE","t":4,"q":0.83},{"s":"EMPIRIE","t":5,"q":0.81},{"s":"EMPIRIE","t":6,"q":0.77},{"s":"EMPIRIE","t":7.5,"q":0.75},{"s":"EMPIRIE","t":8.5,"q":0.72},{"s":"EMPIRIE","t":10,"q":0.69},{"s":"EMPIRIE","t":11.5,"q":0.67},{"s":"EMPIRIE","t":13,"q":0.65},{"s":"EMPIRIE","t":14.5,"q":0.63},{"s":"EMPIRIE","t":16,"q":0.615},{"s":"EMPIRIE","t":17,"q":0.58},{"s":"EMPIRIE","t":18.5,"q":0.54},{"s":"EMPIRIE","t":20,"q":0.52},{"s":"EMPIRIE","t":22,"q":0.50},{"s":"EMPIRIE","t":24,"q":0.47},{"s":"EMPIRIE","t":26,"q":0.45},{"s":"EMPIRIE","t":27.5,"q":0.43},{"s":"EMPIRIE","t":29,"q":0.42},{"s":"EMPIRIE","t":30,"q":0.42},{"s":"EMPIRIE","t":32,"q":0.41},{"s":"EMPIRIE","t":34,"q":0.405},{"s":"EMPIRIE","t":36,"q":0.395},{"s":"EMPIRIE","t":37.5,"q":0.38},{"s":"EMPIRIE","t":38.5,"q":0.40},{"s":"EMPIRIE","t":39.5,"q":0.41},{"s":"EMPIRIE","t":41,"q":0.395},{"s":"EMPIRIE","t":42,"q":0.37},{"s":"EMPIRIE","t":43,"q":0.33},{"s":"EMPIRIE","t":44.5,"q":0.31},{"s":"EMPIRIE","t":45.5,"q":0.29},{"s":"EMPIRIE","t":47,"q":0.29},{"s":"EMPIRIE","t":48,"q":0.29},
{"s":"PYKVEJF","t":-48,"q":0.17},{"s":"PYKVEJF","t":-42,"q":0.18},{"s":"PYKVEJF","t":-38,"q":0.19},{"s":"PYKVEJF","t":-35,"q":0.20},{"s":"PYKVEJF","t":-32,"q":0.215},{"s":"PYKVEJF","t":-30,"q":0.225},{"s":"PYKVEJF","t":-28,"q":0.24},{"s":"PYKVEJF","t":-25,"q":0.26},{"s":"PYKVEJF","t":-22,"q":0.28},{"s":"PYKVEJF","t":-19,"q":0.30},{"s":"PYKVEJF","t":-17,"q":0.32},{"s":"PYKVEJF","t":-14,"q":0.35},{"s":"PYKVEJF","t":-11.5,"q":0.39},{"s":"PYKVEJF","t":-9,"q":0.44},{"s":"PYKVEJF","t":-7,"q":0.50},{"s":"PYKVEJF","t":-5,"q":0.58},{"s":"PYKVEJF","t":-3,"q":0.68},{"s":"PYKVEJF","t":-1.5,"q":0.80},{"s":"PYKVEJF","t":0.2,"q":0.97},{"s":"PYKVEJF","t":2,"q":0.86},{"s":"PYKVEJF","t":4,"q":0.77},{"s":"PYKVEJF","t":6.5,"q":0.70},{"s":"PYKVEJF","t":9.5,"q":0.65},{"s":"PYKVEJF","t":12.5,"q":0.61},{"s":"PYKVEJF","t":15,"q":0.58},{"s":"PYKVEJF","t":18,"q":0.55},{"s":"PYKVEJF","t":21,"q":0.53},{"s":"PYKVEJF","t":24.5,"q":0.50},{"s":"PYKVEJF","t":28,"q":0.47},{"s":"PYKVEJF","t":31,"q":0.44},{"s":"PYKVEJF","t":34,"q":0.41},{"s":"PYKVEJF","t":37.5,"q":0.38},{"s":"PYKVEJF","t":41,"q":0.35},{"s":"PYKVEJF","t":44,"q":0.33},{"s":"PYKVEJF","t":47,"q":0.31},{"s":"PYKVEJF","t":48,"q":0.30},
{"s":"SPLINE","t":-48,"q":0.155},{"s":"SPLINE","t":-34,"q":0.155},{"s":"SPLINE","t":-33.5,"q":0.16},{"s":"SPLINE","t":-31.5,"q":0.20},{"s":"SPLINE","t":-29,"q":0.25},{"s":"SPLINE","t":-26.5,"q":0.32},{"s":"SPLINE","t":-23.5,"q":0.41},{"s":"SPLINE","t":-21,"q":0.50},{"s":"SPLINE","t":-18.5,"q":0.58},{"s":"SPLINE","t":-16,"q":0.65},{"s":"SPLINE","t":-13,"q":0.72},{"s":"SPLINE","t":-10,"q":0.80},{"s":"SPLINE","t":-7,"q":0.87},{"s":"SPLINE","t":-4,"q":0.93},{"s":"SPLINE","t":-1.5,"q":0.97},{"s":"SPLINE","t":0,"q":0.98},{"s":"SPLINE","t":1,"q":0.98},{"s":"SPLINE","t":3,"q":0.96},{"s":"SPLINE","t":5.5,"q":0.92},{"s":"SPLINE","t":8,"q":0.86},{"s":"SPLINE","t":10.5,"q":0.78},{"s":"SPLINE","t":13,"q":0.69},{"s":"SPLINE","t":15,"q":0.62},{"s":"SPLINE","t":17,"q":0.56},{"s":"SPLINE","t":19.5,"q":0.52},{"s":"SPLINE","t":22,"q":0.48},{"s":"SPLINE","t":24.5,"q":0.45},{"s":"SPLINE","t":27,"q":0.42},{"s":"SPLINE","t":30.5,"q":0.39},{"s":"SPLINE","t":33.5,"q":0.37},{"s":"SPLINE","t":37,"q":0.355},{"s":"SPLINE","t":40,"q":0.345},{"s":"SPLINE","t":43,"q":0.34},{"s":"SPLINE","t":46,"q":0.335},{"s":"SPLINE","t":48,"q":0.33}
],
"p7": [
{"s":"EMPIRIE","t":-48,"q":0.82},{"s":"EMPIRIE","t":-47,"q":0.81},{"s":"EMPIRIE","t":-43,"q":0.81},{"s":"EMPIRIE","t":-42,"q":0.80},{"s":"EMPIRIE","t":-40.5,"q":0.79},{"s":"EMPIRIE","t":-39.5,"q":0.78},{"s":"EMPIRIE","t":-38,"q":0.78},{"s":"EMPIRIE","t":-37,"q":0.77},{"s":"EMPIRIE","t":-36,"q":0.765},{"s":"EMPIRIE","t":-35,"q":0.77},{"s":"EMPIRIE","t":-34,"q":0.79},{"s":"EMPIRIE","t":-32.5,"q":0.80},{"s":"EMPIRIE","t":-31,"q":0.81},{"s":"EMPIRIE","t":-30,"q":0.81},{"s":"EMPIRIE","t":-29,"q":0.80},{"s":"EMPIRIE","t":-27.5,"q":0.79},{"s":"EMPIRIE","t":-26.5,"q":0.785},{"s":"EMPIRIE","t":-25.5,"q":0.79},{"s":"EMPIRIE","t":-24.5,"q":0.80},{"s":"EMPIRIE","t":-23,"q":0.82},{"s":"EMPIRIE","t":-21.5,"q":0.83},{"s":"EMPIRIE","t":-19.5,"q":0.835},{"s":"EMPIRIE","t":-17.5,"q":0.835},{"s":"EMPIRIE","t":-16,"q":0.84},{"s":"EMPIRIE","t":-14,"q":0.84},{"s":"EMPIRIE","t":-13,"q":0.85},{"s":"EMPIRIE","t":-11.5,"q":0.87},{"s":"EMPIRIE","t":-10,"q":0.89},{"s":"EMPIRIE","t":-8.5,"q":0.92},{"s":"EMPIRIE","t":-7,"q":0.94},{"s":"EMPIRIE","t":-6,"q":0.96},{"s":"EMPIRIE","t":-5,"q":0.975},{"s":"EMPIRIE","t":-3.5,"q":0.985},{"s":"EMPIRIE","t":-1,"q":0.99},{"s":"EMPIRIE","t":0,"q":0.99},{"s":"EMPIRIE","t":2,"q":0.97},{"s":"EMPIRIE","t":4,"q":0.93},{"s":"EMPIRIE","t":6.5,"q":0.89},{"s":"EMPIRIE","t":9.5,"q":0.84},{"s":"EMPIRIE","t":11.5,"q":0.82},{"s":"EMPIRIE","t":14,"q":0.80},{"s":"EMPIRIE","t":16,"q":0.79},{"s":"EMPIRIE","t":18.5,"q":0.77},{"s":"EMPIRIE","t":21,"q":0.75},{"s":"EMPIRIE","t":23.5,"q":0.74},{"s":"EMPIRIE","t":26,"q":0.73},{"s":"EMPIRIE","t":29,"q":0.70},{"s":"EMPIRIE","t":32.5,"q":0.67},{"s":"EMPIRIE","t":35.5,"q":0.64},{"s":"EMPIRIE","t":38.5,"q":0.61},{"s":"EMPIRIE","t":41.5,"q":0.59},{"s":"EMPIRIE","t":44,"q":0.575},{"s":"EMPIRIE","t":46,"q":0.56},{"s":"EMPIRIE","t":48,"q":0.545},
{"s":"PYKVEJF","t":-48,"q":0.78},{"s":"PYKVEJF","t":-45,"q":0.775},{"s":"PYKVEJF","t":-42,"q":0.775},{"s":"PYKVEJF","t":-39,"q":0.78},{"s":"PYKVEJF","t":-35,"q":0.79},{"s":"PYKVEJF","t":-31,"q":0.80},{"s":"PYKVEJF","t":-27,"q":0.81},{"s":"PYKVEJF","t":-23,"q":0.825},{"s":"PYKVEJF","t":-19,"q":0.84},{"s":"PYKVEJF","t":-15,"q":0.855},{"s":"PYKVEJF","t":-12,"q":0.87},{"s":"PYKVEJF","t":-9,"q":0.89},{"s":"PYKVEJF","t":-6,"q":0.91},{"s":"PYKVEJF","t":-3,"q":0.94},{"s":"PYKVEJF","t":0,"q":0.98},{"s":"PYKVEJF","t":2,"q":0.96},{"s":"PYKVEJF","t":5,"q":0.92},{"s":"PYKVEJF","t":8,"q":0.87},{"s":"PYKVEJF","t":11,"q":0.83},{"s":"PYKVEJF","t":14,"q":0.81},{"s":"PYKVEJF","t":17,"q":0.79},{"s":"PYKVEJF","t":20,"q":0.77},{"s":"PYKVEJF","t":23,"q":0.745},{"s":"PYKVEJF","t":26,"q":0.72},{"s":"PYKVEJF","t":29,"q":0.695},{"s":"PYKVEJF","t":32,"q":0.67},{"s":"PYKVEJF","t":35,"q":0.645},{"s":"PYKVEJF","t":38.5,"q":0.62},{"s":"PYKVEJF","t":42,"q":0.595},{"s":"PYKVEJF","t":45,"q":0.575},{"s":"PYKVEJF","t":48,"q":0.55},
{"s":"SPLINE","t":-48,"q":0.745},{"s":"SPLINE","t":-45,"q":0.755},{"s":"SPLINE","t":-42,"q":0.765},{"s":"SPLINE","t":-39,"q":0.775},{"s":"SPLINE","t":-36,"q":0.79},{"s":"SPLINE","t":-32,"q":0.82},{"s":"SPLINE","t":-28,"q":0.85},{"s":"SPLINE","t":-24,"q":0.89},{"s":"SPLINE","t":-20,"q":0.93},{"s":"SPLINE","t":-16,"q":0.965},{"s":"SPLINE","t":-12.5,"q":0.995},{"s":"SPLINE","t":-11,"q":1.0},{"s":"SPLINE","t":0,"q":1.0},{"s":"SPLINE","t":2.5,"q":0.97},{"s":"SPLINE","t":6,"q":0.92},{"s":"SPLINE","t":9,"q":0.87},{"s":"SPLINE","t":12,"q":0.83},{"s":"SPLINE","t":15,"q":0.80},{"s":"SPLINE","t":19,"q":0.765},{"s":"SPLINE","t":23,"q":0.73},{"s":"SPLINE","t":27,"q":0.70},{"s":"SPLINE","t":31,"q":0.665},{"s":"SPLINE","t":35,"q":0.635},{"s":"SPLINE","t":39,"q":0.605},{"s":"SPLINE","t":43,"q":0.575},{"s":"SPLINE","t":48,"q":0.55}
],
"p8": [
{"s":"EMPIRIE","t":-48,"q":0.18},{"s":"EMPIRIE","t":-42,"q":0.18},{"s":"EMPIRIE","t":-41,"q":0.19},{"s":"EMPIRIE","t":-40,"q":0.20},{"s":"EMPIRIE","t":-38,"q":0.22},{"s":"EMPIRIE","t":-36,"q":0.235},{"s":"EMPIRIE","t":-34,"q":0.25},{"s":"EMPIRIE","t":-32.5,"q":0.26},{"s":"EMPIRIE","t":-31,"q":0.28},{"s":"EMPIRIE","t":-29.5,"q":0.29},{"s":"EMPIRIE","t":-28.5,"q":0.29},{"s":"EMPIRIE","t":-27.5,"q":0.31},{"s":"EMPIRIE","t":-26,"q":0.32},{"s":"EMPIRIE","t":-24.5,"q":0.33},{"s":"EMPIRIE","t":-23.5,"q":0.38},{"s":"EMPIRIE","t":-22,"q":0.40},{"s":"EMPIRIE","t":-20,"q":0.44},{"s":"EMPIRIE","t":-18.5,"q":0.48},{"s":"EMPIRIE","t":-17,"q":0.51},{"s":"EMPIRIE","t":-15.5,"q":0.55},{"s":"EMPIRIE","t":-14,"q":0.58},{"s":"EMPIRIE","t":-12.5,"q":0.62},{"s":"EMPIRIE","t":-11,"q":0.64},{"s":"EMPIRIE","t":-9.5,"q":0.67},{"s":"EMPIRIE","t":-8.5,"q":0.69},{"s":"EMPIRIE","t":-7,"q":0.77},{"s":"EMPIRIE","t":-5,"q":0.86},{"s":"EMPIRIE","t":-3.5,"q":0.95},{"s":"EMPIRIE","t":-2.5,"q":0.955},{"s":"EMPIRIE","t":-1,"q":0.975},{"s":"EMPIRIE","t":0,"q":0.98},{"s":"EMPIRIE","t":1,"q":0.975},{"s":"EMPIRIE","t":3,"q":0.95},{"s":"EMPIRIE","t":5,"q":0.92},{"s":"EMPIRIE","t":7,"q":0.89},{"s":"EMPIRIE","t":8.5,"q":0.88},{"s":"EMPIRIE","t":10,"q":0.86},{"s":"EMPIRIE","t":12,"q":0.83},{"s":"EMPIRIE","t":14.5,"q":0.80},{"s":"EMPIRIE","t":17,"q":0.78},{"s":"EMPIRIE","t":19,"q":0.77},{"s":"EMPIRIE","t":21.5,"q":0.73},{"s":"EMPIRIE","t":24,"q":0.71},{"s":"EMPIRIE","t":26.5,"q":0.69},{"s":"EMPIRIE","t":29,"q":0.66},{"s":"EMPIRIE","t":31.5,"q":0.64},{"s":"EMPIRIE","t":34,"q":0.62},{"s":"EMPIRIE","t":36.5,"q":0.60},{"s":"EMPIRIE","t":39,"q":0.58},{"s":"EMPIRIE","t":42,"q":0.565},{"s":"EMPIRIE","t":45,"q":0.55},{"s":"EMPIRIE","t":48,"q":0.52},
{"s":"PYKVEJF","t":-48,"q":0.18},{"s":"PYKVEJF","t":-44,"q":0.19},{"s":"PYKVEJF","t":-41,"q":0.20},{"s":"PYKVEJF","t":-38,"q":0.22},{"s":"PYKVEJF","t":-35,"q":0.24},{"s":"PYKVEJF","t":-32,"q":0.26},{"s":"PYKVEJF","t":-29,"q":0.28},{"s":"PYKVEJF","t":-26,"q":0.31},{"s":"PYKVEJF","t":-23,"q":0.35},{"s":"PYKVEJF","t":-20,"q":0.40},{"s":"PYKVEJF","t":-17,"q":0.45},{"s":"PYKVEJF","t":-14,"q":0.51},{"s":"PYKVEJF","t":-11,"q":0.57},{"s":"PYKVEJF","t":-8,"q":0.64},{"s":"PYKVEJF","t":-5.5,"q":0.72},{"s":"PYKVEJF","t":-3.5,"q":0.80},{"s":"PYKVEJF","t":-1.5,"q":0.88},{"s":"PYKVEJF","t":0,"q":0.98},{"s":"PYKVEJF","t":2,"q":0.96},{"s":"PYKVEJF","t":4.5,"q":0.92},{"s":"PYKVEJF","t":7,"q":0.89},{"s":"PYKVEJF","t":10,"q":0.86},{"s":"PYKVEJF","t":13,"q":0.82},{"s":"PYKVEJF","t":16.5,"q":0.785},{"s":"PYKVEJF","t":19.5,"q":0.76},{"s":"PYKVEJF","t":22.5,"q":0.73},{"s":"PYKVEJF","t":25.5,"q":0.70},{"s":"PYKVEJF","t":28.5,"q":0.67},{"s":"PYKVEJF","t":31.5,"q":0.64},{"s":"PYKVEJF","t":35,"q":0.61},{"s":"PYKVEJF","t":38.5,"q":0.585},{"s":"PYKVEJF","t":42,"q":0.56},{"s":"PYKVEJF","t":45,"q":0.54},{"s":"PYKVEJF","t":48,"q":0.515},
{"s":"SPLINE","t":-48,"q":0.175},{"s":"SPLINE","t":-41,"q":0.175},{"s":"SPLINE","t":-40,"q":0.18},{"s":"SPLINE","t":-38,"q":0.20},{"s":"SPLINE","t":-36.5,"q":0.22},{"s":"SPLINE","t":-34.5,"q":0.25},{"s":"SPLINE","t":-33,"q":0.28},{"s":"SPLINE","t":-31,"q":0.32},{"s":"SPLINE","t":-29,"q":0.37},{"s":"SPLINE","t":-27,"q":0.42},{"s":"SPLINE","t":-25,"q":0.48},{"s":"SPLINE","t":-23,"q":0.54},{"s":"SPLINE","t":-21,"q":0.60},{"s":"SPLINE","t":-19,"q":0.66},{"s":"SPLINE","t":-16.5,"q":0.72},{"s":"SPLINE","t":-14,"q":0.78},{"s":"SPLINE","t":-11,"q":0.84},{"s":"SPLINE","t":-8,"q":0.89},{"s":"SPLINE","t":-5,"q":0.935},{"s":"SPLINE","t":-2,"q":0.97},{"s":"SPLINE","t":0,"q":0.99},{"s":"SPLINE","t":2.5,"q":0.985},{"s":"SPLINE","t":5,"q":0.96},{"s":"SPLINE","t":7.5,"q":0.925},{"s":"SPLINE","t":10,"q":0.87},{"s":"SPLINE","t":13,"q":0.81},{"s":"SPLINE","t":16.5,"q":0.775},{"s":"SPLINE","t":20,"q":0.725},{"s":"SPLINE","t":23.5,"q":0.68},{"s":"SPLINE","t":26.5,"q":0.665},{"s":"SPLINE","t":30,"q":0.64},{"s":"SPLINE","t":33,"q":0.62},{"s":"SPLINE","t":36,"q":0.60},{"s":"SPLINE","t":39.5,"q":0.58},{"s":"SPLINE","t":43,"q":0.56},{"s":"SPLINE","t":45.5,"q":0.545},{"s":"SPLINE","t":48,"q":0.525}
]
}
}
